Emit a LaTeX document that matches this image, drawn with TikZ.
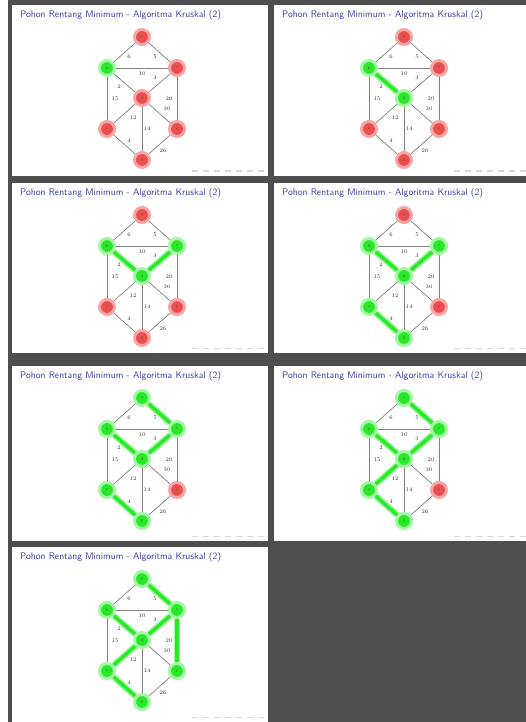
\documentclass[tikz,border=0pt]{standalone}
\pgfdeclarelayer{bg}\pgfdeclarelayer{edges}
\pgfsetlayers{bg,edges,main}
\definecolor{framec}{RGB}{78,78,78}
\definecolor{ttl}{RGB}{60,60,175}
\definecolor{rn}{RGB}{235,78,78}
\definecolor{rh}{RGB}{247,165,165}
\definecolor{gn}{RGB}{40,232,40}
\definecolor{gh}{RGB}{160,248,160}
\definecolor{edg}{RGB}{130,130,130}
\tikzset{
  x=1pt,y=-1pt,
  rednode/.style={circle,fill=rn,draw=rh,line width=3pt,minimum size=15pt,inner sep=0pt,
    font=\fontsize{4}{4}\selectfont,text=black!70},
  greennode/.style={rednode,fill=gn,draw=gh},
  thinedge/.style={draw=edg,line width=0.7pt},
  treeedge/.style={draw=gn,line width=3.4pt},
  treehalo/.style={draw=gh,line width=6.5pt},
  lab/.style={font=\fontsize{5.5}{5.5}\selectfont,inner sep=0pt,text=black!80},
  titlest/.style={anchor=west,text=ttl,font=\sffamily\fontsize{9.6}{10}\selectfont,inner sep=0pt},
  navmark/.style={fill=black!15}
}
% #1 id, #2 x, #3 y, #4 width, #5 height, #6 tree edges
\newcommand\kslide[6]{%
\begin{scope}[shift={(#2,#3)}]
  \begin{pgfonlayer}{bg}
    \fill[white] (0,0) rectangle (#4,#5);
  \end{pgfonlayer}
  \node[titlest] (#1t) at (8,10) {Pohon Rentang Minimum - Algoritma Kruskal (2)};
  \node[ka] (#1a) at (130,32) {a};
  \node[kb] (#1b) at (95,63) {b};
  \node[kc] (#1c) at (165,63) {c};
  \node[kd] (#1d) at (130,93) {d};
  \node[ke] (#1e) at (95,124) {e};
  \node[kf] (#1f) at (165,124) {f};
  \node[kg] (#1g) at (130,155) {g};
  \node[lab] (#1l1) at (117,52) {6};
  \node[lab] (#1l2) at (143,52) {5};
  \node[lab] (#1l3) at (130,69) {10};
  \node[lab] (#1l4) at (143,73) {3};
  \node[lab] (#1l5) at (107,82) {2};
  \node[lab] (#1l6) at (103,94) {15};
  \node[lab] (#1l7) at (157,94) {20};
  \node[lab] (#1l8) at (155,104) {30};
  \node[lab] (#1l9) at (121,113) {12};
  \node[lab] (#1l10) at (135,124) {14};
  \node[lab] (#1l11) at (117,136) {4};
  \node[lab] (#1l12) at (151,146) {26};
  \foreach \k in {0,...,6}{\fill[navmark] (180+\k*11,#5-4) rectangle +(6,-1.5);}
  \begin{pgfonlayer}{edges}
    \foreach \u/\v in {a/b,a/c,b/c,b/d,c/d,b/e,c/f,d/e,d/f,d/g,e/g,f/g}
      \draw[thinedge] (#1\u) -- (#1\v);
    \def\tmplist{#6}%
    \ifx\tmplist\empty\else
      \foreach \u/\v in {#6} \draw[treehalo] (#1\u) -- (#1\v);
      \foreach \u/\v in {#6} \draw[treeedge] (#1\u) -- (#1\v);
    \fi
  \end{pgfonlayer}
\end{scope}}
\newcommand\setnodes[7]{\tikzset{ka/.style=#1,kb/.style=#2,kc/.style=#3,kd/.style=#4,ke/.style=#5,kf/.style=#6,kg/.style=#7}}
\begin{document}
\begin{tikzpicture}
\useasboundingbox (0,0) rectangle (526,722);
\begin{pgfonlayer}{bg}
  \fill[white] (0,0) rectangle (526,722);
  \fill[framec] (8,0) rectangle (526,722);
\end{pgfonlayer}
\setnodes{rednode}{greennode}{rednode}{rednode}{rednode}{rednode}{rednode}
\kslide{p1}{12}{5}{256}{171}{}
\setnodes{rednode}{greennode}{rednode}{greennode}{rednode}{rednode}{rednode}
\kslide{p2}{274}{5}{252}{171}{b/d}
\setnodes{rednode}{greennode}{greennode}{greennode}{rednode}{rednode}{rednode}
\kslide{p3}{12}{183}{256}{170}{b/d,c/d}
\setnodes{rednode}{greennode}{greennode}{greennode}{greennode}{rednode}{greennode}
\kslide{p4}{274}{183}{252}{170}{b/d,c/d,e/g}
\setnodes{greennode}{greennode}{greennode}{greennode}{greennode}{rednode}{greennode}
\kslide{p5}{12}{366}{256}{175}{a/c,b/d,c/d,e/g}
\setnodes{greennode}{greennode}{greennode}{greennode}{greennode}{rednode}{greennode}
\kslide{p6}{274}{366}{252}{175}{a/c,b/d,c/d,e/g,d/e}
\setnodes{greennode}{greennode}{greennode}{greennode}{greennode}{greennode}{greennode}
\kslide{p7}{12}{547}{256}{175}{a/c,b/d,c/d,e/g,d/e,c/f}
\end{tikzpicture}
\end{document}
